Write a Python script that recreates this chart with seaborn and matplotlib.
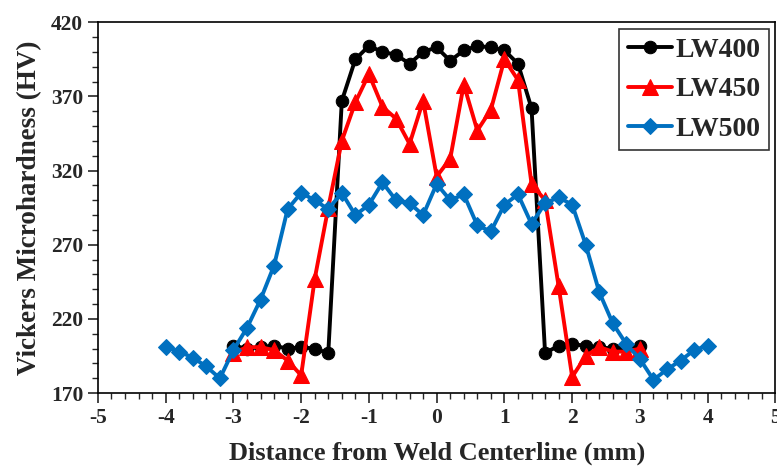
import numpy as np
import pandas as pd
import matplotlib
matplotlib.use("Agg")
import matplotlib.pyplot as plt
from matplotlib.ticker import MultipleLocator
import seaborn as sns

# Dados (distância em mm, dureza em HV)
x_lw400 = [-3.0, -2.8, -2.6, -2.4, -2.2, -2.0, -1.8, -1.6, -1.4, -1.2, -1.0,
           -0.8, -0.6, -0.4, -0.2, 0.0, 0.2, 0.4, 0.6, 0.8, 1.0,
           1.2, 1.4, 1.6, 1.8, 2.0, 2.2, 2.4, 2.6, 2.8, 3.0]
hv_lw400 = [202, 200, 201, 202, 200, 201, 200, 197, 367, 395, 404,
            400, 398, 392, 400, 403, 394, 401, 404, 403, 401,
            392, 362, 197, 202, 203, 202, 201, 200, 201, 202]

x_lw450 = x_lw400
hv_lw450 = [197, 201, 201, 199, 192, 182, 247, 295, 340, 366, 385,
            363, 355, 338, 367, 316, 328, 378, 347, 361, 395,
            381, 311, 300, 242, 181, 195, 201, 198, 198, 200]

x_lw500 = [-4.0, -3.8, -3.6, -3.4, -3.2, -3.0, -2.8, -2.6, -2.4, -2.2, -2.0,
           -1.8, -1.6, -1.4, -1.2, -1.0, -0.8, -0.6, -0.4, -0.2, 0.0,
           0.2, 0.4, 0.6, 0.8, 1.0, 1.2, 1.4, 1.6, 1.8, 2.0,
           2.2, 2.4, 2.6, 2.8, 3.0, 3.2, 3.4, 3.6, 3.8, 4.0]
hv_lw500 = [201, 198, 194, 188, 180, 199, 214, 233, 256, 294, 305,
            300, 294, 305, 290, 297, 312, 300, 298, 290, 311,
            300, 304, 283, 279, 297, 304, 284, 298, 302, 297,
            270, 238, 217, 203, 193, 179, 186, 192, 199, 202]

series = [
    ('LW400', x_lw400, hv_lw400, 'black', 'o', 9),
    ('LW450', x_lw450, hv_lw450, '#FF0000', '^', 11),
    ('LW500', x_lw500, hv_lw500, '#0070C0', 'D', 8),
]

sns.set_style('ticks')
plt.rcParams['font.family'] = ['Liberation Serif', 'DejaVu Serif']
plt.rcParams['font.weight'] = 'bold'
plt.rcParams['axes.unicode_minus'] = False

fig = plt.figure(figsize=(7.77, 4.72), dpi=100)
ax = fig.add_axes([0.126, 0.167, 0.872, 0.786])

for nome, xs, ys, cor, marc, tam in series:
    df = pd.DataFrame({'x': xs, 'y': ys})
    sns.lineplot(data=df, x='x', y='y', ax=ax, color=cor, marker=marc,
                 markersize=tam, markeredgecolor=cor, linewidth=2.8,
                 label=nome, sort=False)

ax.set_xlim(-5, 5)
ax.set_ylim(170, 420)
ax.set_xticks(range(-5, 6))
ax.set_yticks(range(170, 421, 50))
ax.xaxis.set_minor_locator(MultipleLocator(0.2))
ax.yaxis.set_minor_locator(MultipleLocator(10))
ax.tick_params(which='major', direction='out', length=7, width=1.2, labelsize=15.5)
ax.tick_params(which='minor', direction='out', length=4, width=1.0)
for lab in ax.get_xticklabels() + ax.get_yticklabels():
    lab.set_fontweight('bold')
for sp in ax.spines.values():
    sp.set_linewidth(1.2)
    sp.set_color('black')

ax.set_xlabel('Distance from Weld Centerline (mm)', fontsize=19, fontweight='bold', labelpad=10)
ax.set_ylabel('Vickers Microhardness (HV)', fontsize=19.5, fontweight='bold', labelpad=6)

leg = ax.legend(loc='upper right', fontsize=20, frameon=True, fancybox=False,
                handlelength=1.6, handletextpad=0.1, borderpad=0.3,
                labelspacing=0.5, borderaxespad=0.25)
leg.get_frame().set_edgecolor('black')
leg.get_frame().set_linewidth(1.2)
for t in leg.get_texts():
    t.set_fontweight('bold')

fig.savefig('out.png', dpi=100)
